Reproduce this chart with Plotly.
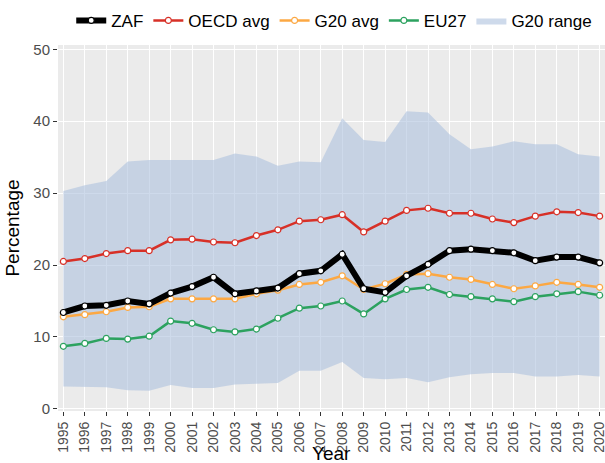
import plotly.graph_objects as go

years = list(range(1995, 2021))

zaf = [13.4, 14.3, 14.4, 15.0, 14.6, 16.1, 17.0, 18.3, 16.0, 16.4, 16.8, 18.8, 19.2, 21.5,
       16.7, 16.2, 18.5, 20.1, 22.0, 22.2, 22.0, 21.7, 20.6, 21.1, 21.1, 20.3]
oecd = [20.5, 20.9, 21.6, 22.0, 22.0, 23.5, 23.6, 23.2, 23.1, 24.1, 24.9, 26.1, 26.3, 27.0,
        24.6, 26.1, 27.6, 27.9, 27.2, 27.2, 26.4, 25.9, 26.8, 27.4, 27.3, 26.8]
g20 = [12.8, 13.1, 13.5, 14.1, 14.2, 15.3, 15.3, 15.3, 15.3, 16.0, 16.5, 17.3, 17.6, 18.5,
       16.6, 17.4, 18.7, 18.8, 18.3, 18.0, 17.3, 16.7, 17.1, 17.6, 17.3, 16.9]
eu27 = [8.7, 9.1, 9.8, 9.7, 10.1, 12.2, 11.9, 11.0, 10.7, 11.1, 12.6, 14.0, 14.3, 15.0,
        13.2, 15.3, 16.6, 16.9, 15.9, 15.6, 15.3, 14.9, 15.6, 16.0, 16.3, 15.8]
g20_max = [30.3, 31.1, 31.7, 34.4, 34.6, 34.6, 34.7, 34.6, 35.5, 35.1, 33.8, 34.4, 34.3, 40.4,
           37.4, 37.1, 41.4, 41.2, 38.2, 36.1, 36.5, 37.2, 36.8, 36.8, 35.4, 35.1]
g20_min = [3.1, 3.1, 3.0, 2.6, 2.5, 3.3, 2.9, 2.9, 3.4, 3.5, 3.6, 5.3, 5.3, 6.5,
           4.3, 4.1, 4.3, 3.7, 4.4, 4.8, 5.0, 5.0, 4.5, 4.5, 4.7, 4.5]

FONT = "Liberation Sans, Arial, sans-serif"

fig = go.Figure()

fig.add_trace(go.Scatter(x=years, y=g20_min, mode="lines", line=dict(width=0),
                         showlegend=False, hoverinfo="skip"))
fig.add_trace(go.Scatter(x=years, y=g20_max, mode="lines", line=dict(width=0),
                         fill="tonexty", fillcolor="rgba(176,196,222,0.62)",
                         name="G20 range", legendrank=5))

def line_trace(y, name, color, width, rank):
    return go.Scatter(x=years, y=y, mode="lines+markers", name=name, legendrank=rank,
                      line=dict(color=color, width=width),
                      marker=dict(color="white", size=6, line=dict(color=color, width=1.2)))

fig.add_trace(line_trace(eu27, "EU27", "#2ca25f", 2.5, 4))
fig.add_trace(line_trace(g20, "G20 avg", "#fca843", 2.5, 3))
fig.add_trace(line_trace(oecd, "OECD avg", "#d73027", 2.5, 2))
fig.add_trace(line_trace(zaf, "ZAF", "#000000", 6, 1))

fig.update_layout(
    width=605, height=463,
    margin=dict(l=58, r=0, t=45, b=52, autoexpand=False),
    paper_bgcolor="white", plot_bgcolor="#ebebeb",
    font=dict(family=FONT, color="#4d4d4d", size=15),
    legend=dict(orientation="h", x=0.505, xanchor="center", y=0.955, yanchor="middle",
                yref="container", font=dict(size=17, color="black"),
                bgcolor="rgba(0,0,0,0)", traceorder="normal", itemwidth=30),
    showlegend=True,
    annotations=[dict(text="Year", xref="paper", yref="paper", x=0.5, y=-0.117,
                      xanchor="center", yanchor="middle", showarrow=False,
                      font=dict(size=19, color="black", family=FONT))],
)
fig.update_xaxes(range=[1994.75, 2020.25], tickmode="array", tickvals=years,
                 ticktext=[str(y) for y in years], tickangle=-90,
                 showgrid=True, gridcolor="white", gridwidth=1,
                 ticks="outside", ticklen=4, tickcolor="#333333",
                 tickfont=dict(size=14, color="#4d4d4d"), automargin=False,
                 ticklabeloverflow="allow",
                 zeroline=False, showline=False)
fig.update_yaxes(range=[-0.3, 50.6], tickvals=[0, 10, 20, 30, 40, 50],
                 showgrid=True, gridcolor="white", gridwidth=1,
                 ticks="outside", ticklen=4, tickcolor="#333333",
                 tickfont=dict(size=15, color="#4d4d4d"), automargin=False,
                 title=dict(text="Percentage", font=dict(size=19, color="black"), standoff=8),
                 zeroline=False, showline=False)

fig.write_html("out.html", config={"displayModeBar": False},
               post_script="document.body.style.margin='0';document.body.style.overflow='hidden';")
